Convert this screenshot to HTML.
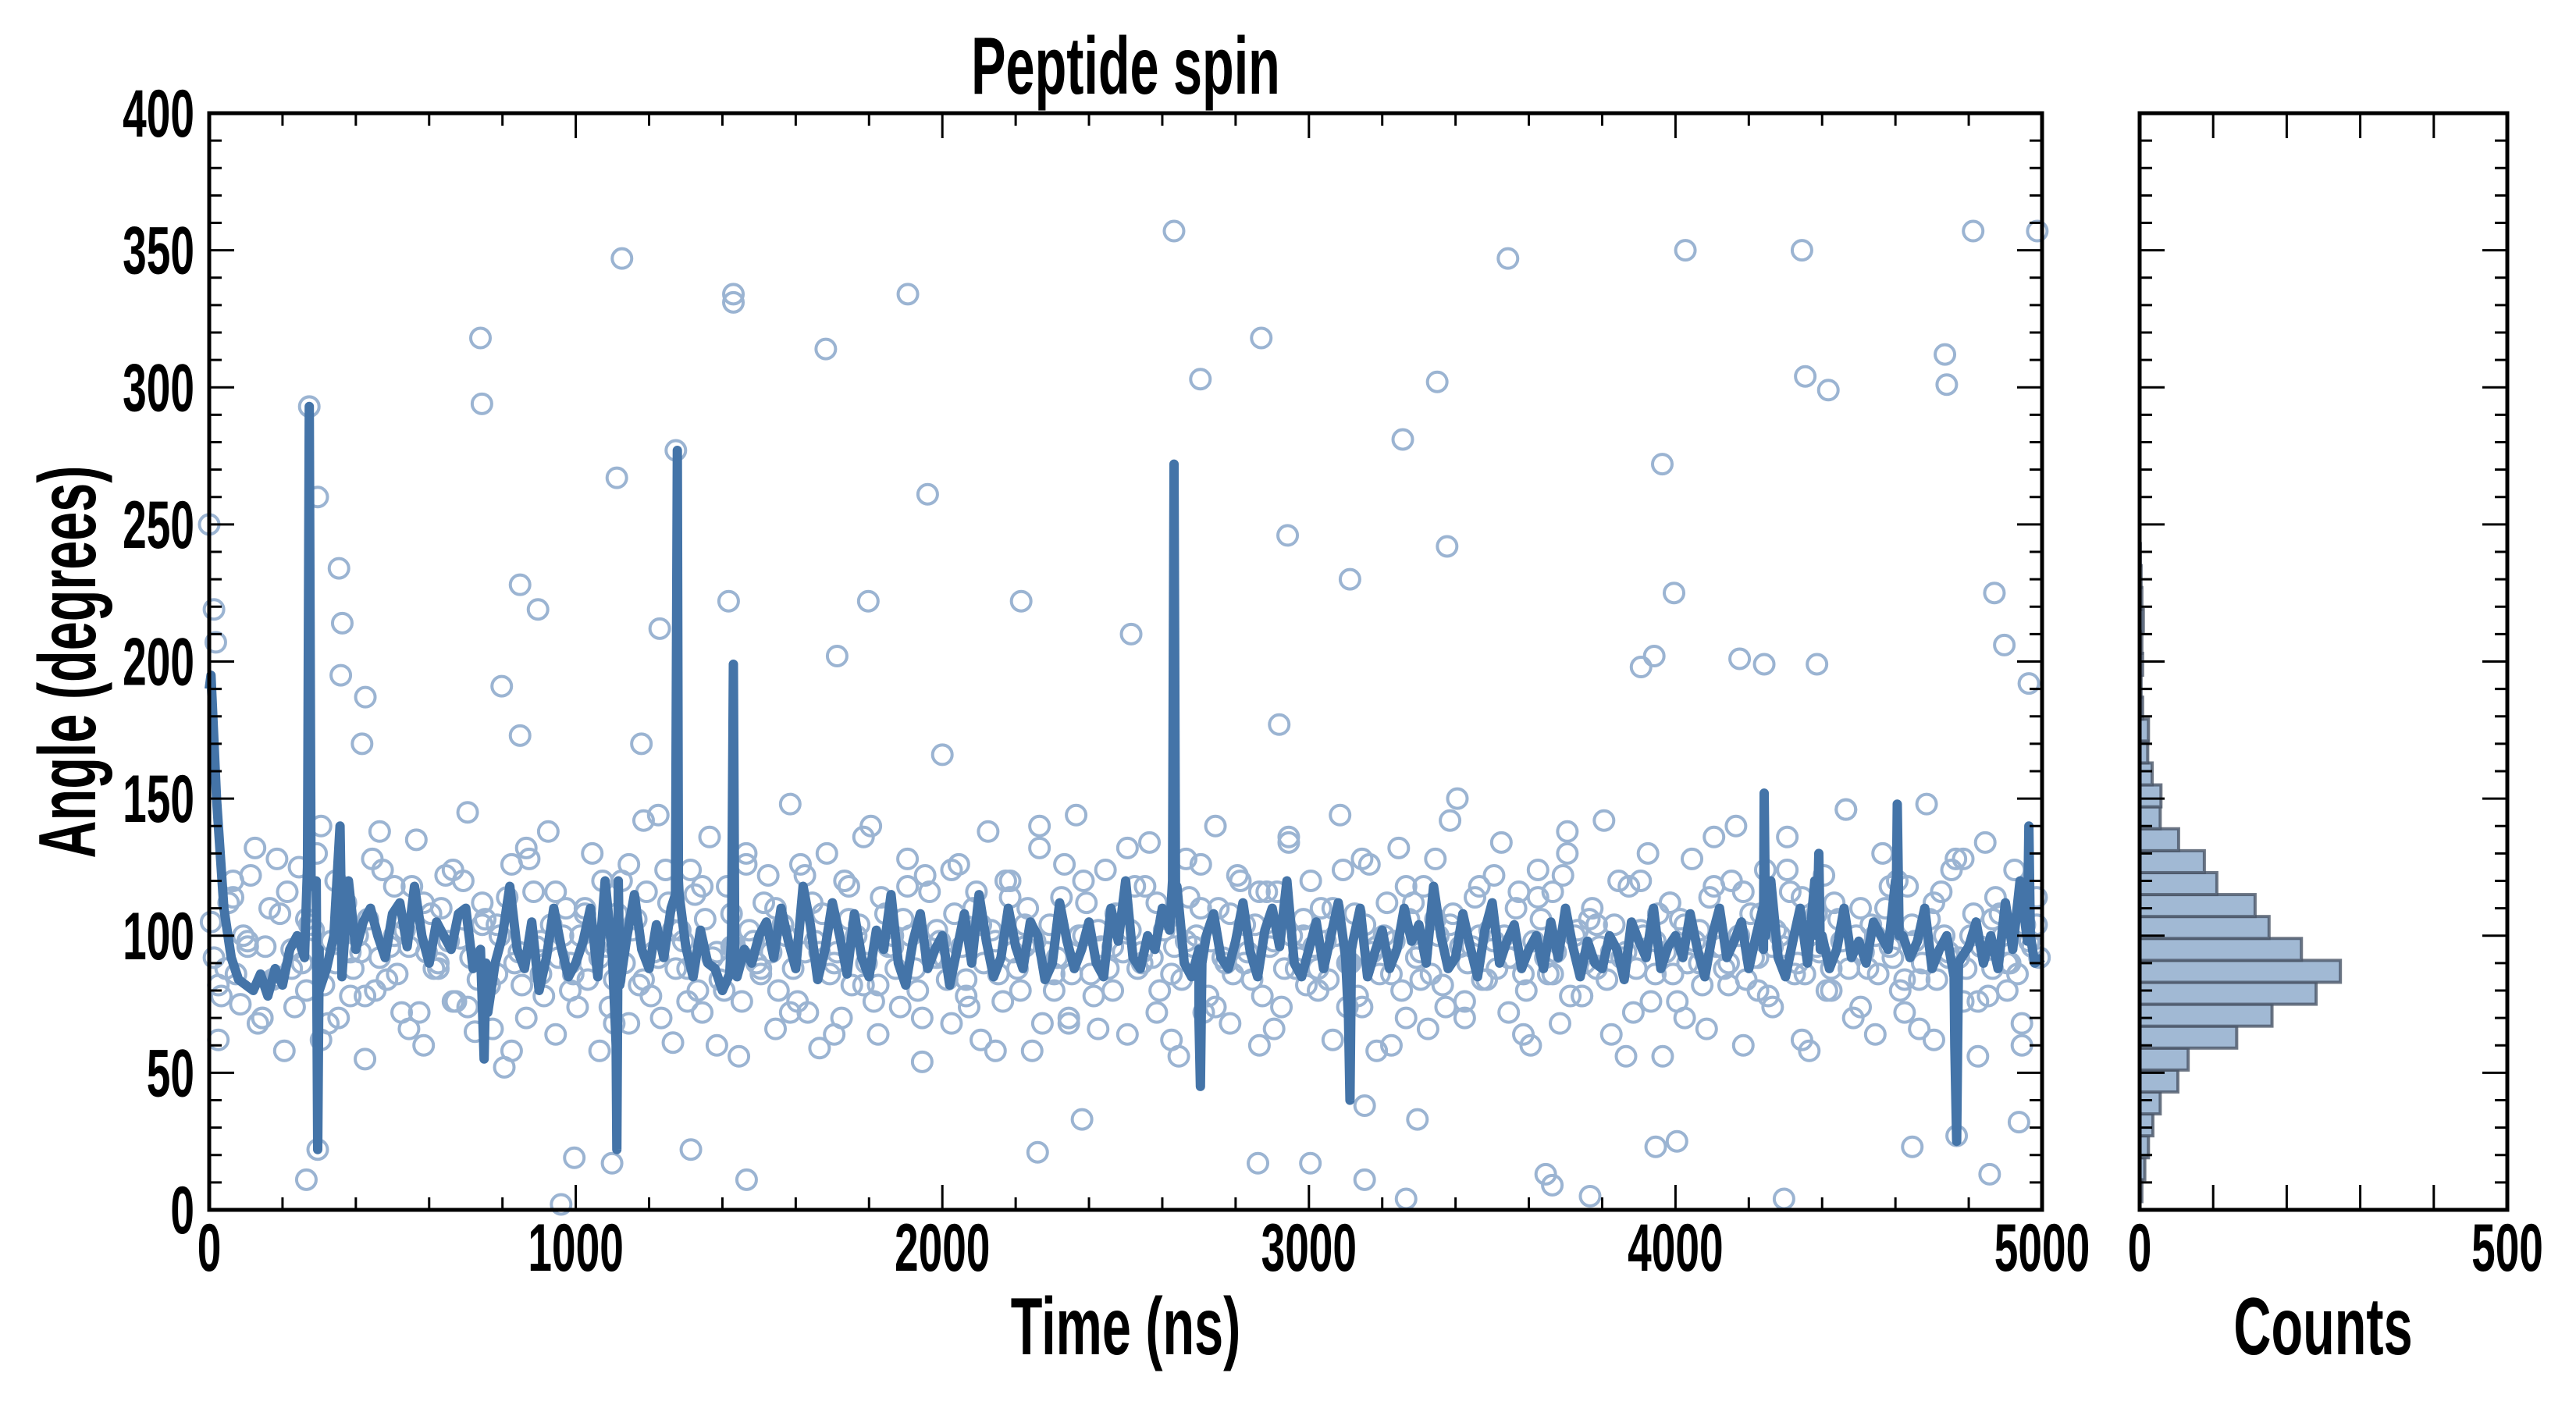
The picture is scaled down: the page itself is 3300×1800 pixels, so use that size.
<!DOCTYPE html>
<html><head><meta charset="utf-8"><style>
html,body{margin:0;padding:0;background:#fff;}
svg{display:block;}
text{font-family:"Liberation Sans Narrow","Liberation Sans",sans-serif;font-weight:bold;fill:#000;}
</style></head><body>
<svg id="chart" width="3300" height="1800" viewBox="0 0 3300 1800" xmlns="http://www.w3.org/2000/svg">
<rect width="3300" height="1800" fill="#fff"/>
<g id="main"></g>
<g id="hist"></g>
<g id="labels">
<text transform="translate(1442,120) scale(0.64,1)" text-anchor="middle" font-size="104">Peptide spin</text>
<text transform="translate(1442,1735) scale(0.64,1)" text-anchor="middle" font-size="104">Time (ns)</text>
<text transform="translate(122,848) rotate(-90) scale(0.64,1)" text-anchor="middle" font-size="104">Angle (degrees)</text>
<text transform="translate(2976,1735) scale(0.64,1)" text-anchor="middle" font-size="104">Counts</text>
</g>
</svg>
<script>
const xTicks = [0,1000,2000,3000,4000,5000];
const yTicks = [0,50,100,150,200,250,300,350,400];
const histTicks = [0,500];
const histBinStart = [3,11,19,27,35,43,51,59,67,75,83,91,99,107,115,123,131,139,147,155,163,171,179,187,195,203,211,219,227,235];
const histCounts = [3,7,12,18,28,52,66,132,180,240,273,220,176,157,105,88,53,28,29,17,11,12,4,2,4,3,5,3,2,1];
const histBinWidth = 8;
const outlierTimes = [0,13,18,273,296,354,363,359,426,417,740,744,848,897,798,848,1126,1112,1229,1273,1179,1430,1430,1417,1682,1798,1713,1906,1960,2215,2000,2632,2704,2870,2942,3112,3256,3350,3377,2919,3543,4027,3964,3996,4345,4354,4417,4735,4740,4812,4870,4987,4964,4897,3942,3906,4175,4242,4386,2515,265,296,960,996,1099,1314,1466,2260,2381,2861,3004,3152,3265,3646,3767,3946,4004,4296,4857,4646,4767,4937,3664,3296,3152];
const outlierAngles = [250,219,207,293,260,234,214,195,187,170,318,294,228,219,191,173,347,267,212,277,170,334,331,222,314,222,202,334,261,222,166,357,303,318,246,230,281,302,242,177,347,350,272,225,350,304,299,312,301,357,225,357,192,206,202,198,201,199,199,210,11,22,2,19,17,22,11,21,33,17,17,11,4,13,5,23,25,4,13,23,27,32,9,33,38];
const bulkA = [105,62,88,120,75,98,132,70,110,85,58,95,125,80,102,140,68,90,115,78,100,55,128,92,84,
118,72,96,135,60,108,88,122,76,99,145,65,112,82,104,52,126,94,70,116,86,138,64,100,90,
74,110,130,58,96,84,120,68,106,142,78,92,124,61,102,88,115,72,136,94,80,108,56,126,98,
86,122,66,104,148,76,94,112,59,130,90,70,118,100,82,140,64,108,96,74,128,88,54,116,102,
92,68,126,84,110,62,138,98,76,120,88,104,58,132,94,80,114,70,144,100,86,66,124,96,108,
64,118,90,134,72,102,86,56,128,96,110,78,140,92,68,122,104,84,60,116,98,74,136,88,106,
120,80,98,62,144,90,108,74,126,58,100,86,132,70,112,94,66,128,82,104,150,76,96,118,84,
98,134,72,110,86,60,124,92,116,68,138,100,78,106,88,142,64,120,94,72,102,130,86,56,112,
76,104,128,90,66,118,96,82,140,60,108,92,124,74,100,136,86,114,58,96,122,80,106,146,70,
110,88,64,130,96,120,72,104,84,148,62,116,92,128,76,100,56,134,88,108,80,124,68,98,114];
const bulkB = [82,114,96,70,128,88,106,62,120,94,78,138,100,66,112,90,124,74,104,86,58,132,98,116,80,
108,92,68,126,84,144,102,76,118,60,96,130,88,110,72,122,94,64,106,136,82,100,118,70,92,
124,78,104,58,114,96,140,86,68,120,102,80,132,94,112,62,98,126,74,108,90,116,66,134,100,
88,110,74,128,96,60,118,84,106,142,70,100,122,92,64,114,86,130,78,104,94,56,120,98,112,
70,102,136,90,116,80,96,124,62,108,88,146,74,100,118,84,66,112,94,128,76,106,90,60,104];
const bulkC = [92,78,112,86,100,122,68,96,84,108,116,74,90,104,130,82,98,70,112,88,94,106,80,124,96,
86,102,118,72,94,88,110,98,76,120,92,84,106,66,100,114,90,82,128,96,78,104,92,110,86,
100,84,96,120,74,108,90,102,82,116,94,70,112,88,98,124,80,106,92,84,118,96,76,102,90,
112,94,80,100,88,126,72,98,108,86,94,120,82,104,90,76,114,96,88,106,100,80,122,92,98,
84,108,96,74,116,90,102,86,120,94,80,110,98,68,104,92,126,86,100,112,78,96,88,108,94,
102,88,118,92,80,106,96,84,114,100,72,98,110,90,86,120,94,104,78,96,116,88,100,92,82,
96,110,84,100,124,90,78,104,94,86,112,98,80,106,92,118,86,100,74,108,96,90,114,84,102,
88,100,92,116,80,98,106,86,94,122,78,102,90,110,96,84,104,92,118,88,100,76,108,94,86,
106,90,98,82,114,96,88,120,100,84,92,108,78,102,96,116,90,86,104,94,80,112,98,88,100,
94,104,86,110,92,80,118,98,90,106,84,100,124,92,88,108,96,78,114,100,90,86,104,96,92];
const lineAngles = [190,150,110,92,84,82,80,86,78,88,
82,95,100,92,118,95,88,100,112,120,
95,105,110,100,92,108,112,96,118,100,
90,105,100,95,108,110,88,95,72,90,
100,118,95,88,105,80,92,110,96,85,
90,98,110,85,120,92,82,100,115,95,
88,104,92,110,120,96,85,102,90,88,
80,86,85,95,90,100,105,92,110,98,
88,118,104,84,95,112,100,86,108,92,
85,102,95,115,90,82,98,108,88,95,
100,82,95,108,90,115,98,85,92,110,
96,88,105,100,84,90,112,98,88,95,
105,90,85,110,98,120,92,88,100,95,
110,102,118,90,85,95,100,108,92,88,
98,112,94,85,102,110,96,120,90,85,
95,105,88,100,112,92,98,110,85,94,
102,88,95,110,98,104,90,118,100,88,
92,108,96,85,102,112,90,98,104,88,
95,100,88,105,92,110,96,85,98,90,
88,100,95,84,105,98,92,110,88,96,
100,92,108,95,85,100,110,92,98,105,
88,100,95,120,92,85,98,110,90,120,
100,88,95,110,92,98,90,105,100,95,
120,100,92,98,110,88,95,100,85,92,
96,105,90,100,88,112,95,120,98,90,
92];
const lineStep = 20;
const spikeTimes = [5,268,273,278,292,296,300,357,362,750,755,1110,1112,1116,1272,1277,1282,1425,1430,1434,2628,2632,2636,2700,2704,2708,3108,3112,3116,4238,4242,4246,4386,4391,4395,4602,4605,4610,4762,4767,4772,4960,4964,4968];
const spikeAngles = [195,125,293,118,120,22,80,140,85,55,90,60,22,120,115,277,115,100,199,90,120,272,118,70,45,90,70,40,95,110,152,100,100,130,95,110,148,100,60,25,90,100,140,100];

const NS='http://www.w3.org/2000/svg';
const M={l:268,r:2616,t:145,b:1550};
const H={l:2741,r:3212,t:145,b:1550};
const sx=v=>M.l+(v/5000)*(M.r-M.l);
const sy=v=>M.b-(v/400)*(M.b-M.t);
const hx=v=>H.l+(v/500)*(H.r-H.l);
function mk(tag,attrs,parent){const e=document.createElementNS(NS,tag);for(const k in attrs)e.setAttribute(k,attrs[k]);parent.appendChild(e);return e;}
const main=document.getElementById('main');
const hist=document.getElementById('hist');

const sg=mk('g',{},main);


function pt(t,a){const c=mk('circle',{cx:sx(t),cy:sy(a),r:12.5,fill:'none',stroke:'#9bb4d2','stroke-width':4},sg);

}
bulkA.forEach((a,i)=>pt(i*20+5,a));
bulkB.forEach((a,i)=>pt(i*40+25,a));
bulkC.forEach((a,i)=>pt(i*20+13,a));
outlierTimes.forEach((t,i)=>pt(t,outlierAngles[i]));

const pts=lineAngles.map((a,i)=>[i*lineStep,a]);
spikeTimes.forEach((t,i)=>pts.push([t,spikeAngles[i]]));
pts.sort((p,q)=>p[0]-q[0]);
const ln=mk('polyline',{points:pts.map(p=>sx(p[0]).toFixed(1)+','+sy(p[1]).toFixed(1)).join(' '),fill:'none',stroke:'#4474a8','stroke-width':12,'stroke-linejoin':'round'},main);



histCounts.forEach((c,i)=>{const y0=sy(histBinStart[i]+histBinWidth),y1=sy(histBinStart[i]);
const b=mk('rect',{x:H.l,y:y0,width:hx(c)-H.l,height:y1-y0,fill:'#a1b9d4',stroke:'#4a5566','stroke-opacity':0.8,'stroke-width':4},hist);

});

function frame(P,parent,name){const f=mk('rect',{x:P.l,y:P.t,width:P.r-P.l,height:P.b-P.t,fill:'none',stroke:'#000','stroke-width':5},parent);

}
function tick(parent,x1,y1,x2,y2){mk('line',{x1,y1,x2,y2,stroke:'#000','stroke-width':3},parent);}
function label(parent,x,y,s,anchor,name){const t=mk('text',{transform:`translate(${x},${y}) scale(0.64,1)`,'text-anchor':anchor,'font-size':86},parent);t.textContent=s;

}
frame(M,main,'main-plot-frame');
frame(H,hist,'hist-plot-frame');
for(let v=0;v<=5000;v+=200){const maj=v%1000===0,L=maj?32:16,x=sx(v);tick(main,x,M.b,x,M.b-L);tick(main,x,M.t,x,M.t+L);}
xTicks.forEach(v=>label(main,sx(v),1628,String(v),'middle','x-tick-label'));
for(let v=0;v<=400;v+=10){const maj=v%50===0,L=maj?32:16,y=sy(v);
tick(main,M.l,y,M.l+L,y);tick(main,M.r,y,M.r-L,y);tick(hist,H.l,y,H.l+L,y);tick(hist,H.r,y,H.r-L,y);}
yTicks.forEach(v=>label(main,249,sy(v)+30,String(v),'end','y-tick-label'));
for(let v=0;v<=500;v+=100){const x=hx(v);tick(hist,x,H.b,x,H.b-32);tick(hist,x,H.t,x,H.t+32);}
histTicks.forEach(v=>label(hist,hx(v),1628,String(v),'middle','hist-x-tick-label'));
</script>
</body></html>
